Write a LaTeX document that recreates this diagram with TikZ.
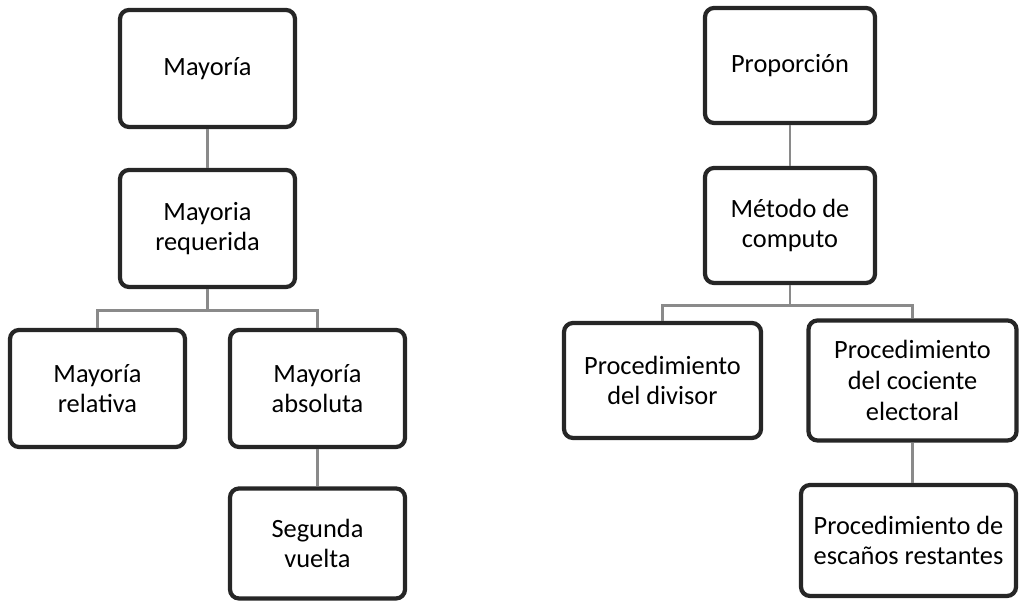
\documentclass[tikz,border=0pt]{standalone}
\usepackage{fontspec}
\setmainfont{Carlito}
\usepackage{tikz}
\usetikzlibrary{shapes.geometric, arrows}
\definecolor{boxline}{HTML}{262626}
\definecolor{linkgray}{HTML}{8A8A8A}
\tikzstyle{box} = [rectangle, rounded corners=0.18cm, minimum width=3.5cm, minimum height=2.34cm, text centered, align=center, draw=boxline, line width=2.4pt, font=\fontsize{15}{17.5}\selectfont]
\tikzstyle{link} = [draw=linkgray, line width=1.6pt]

\begin{document}
\begin{tikzpicture}[node distance=3.2cm]
\useasboundingbox (0,0) rectangle (20.4,-12.02);
% left tree
\node (may) [box] at (4.15,-1.37) {Mayoría};
\node (req) [box, below of=may] {Mayoria\\requerida};
\node (rel) [box, below of=req, xshift=-2.2cm] {Mayoría\\relativa};
\node (abs) [box, below of=req, xshift=2.2cm] {Mayoría\\absoluta};
\node (seg) [box, below of=abs, yshift=0.1cm, minimum height=2.2cm] {Segunda\\vuelta};

% right tree
\node (pro) [box, minimum width=3.4cm, minimum height=2.3cm] at (15.8,-1.31) {Proporción};
\node (met) [box, minimum width=3.4cm, minimum height=2.3cm, below of=pro] {Método de\\computo};
\node (div) [box, minimum width=3.94cm, minimum height=2.3cm, below of=met, xshift=-2.55cm, yshift=0.1cm] {Procedimiento\\del divisor};
\node (coc) [box, minimum width=4.16cm, minimum height=2.4cm, below of=met, xshift=2.45cm, yshift=0.1cm] {Procedimiento\\del cociente\\electoral};
\node (esc) [box, minimum width=4.3cm, minimum height=2.22cm, below of=coc, xshift=-0.08cm] {Procedimiento de\\escaños restantes};

\draw [link] (may) -- (req);
\draw [link] (req.south) -- ++(0,-0.42) -| (rel.north);
\draw [link] (req.south) -- ++(0,-0.42) -| (abs.north);
\draw [link] (abs) -- (seg);

\draw [link] (pro) -- (met);
\draw [link] (met.south) -- ++(0,-0.4) -| (div.north);
\draw [link] (met.south) -- ++(0,-0.4) -| (coc.north);
\draw [link] (coc.south) -- (coc.south |- esc.north);
\end{tikzpicture}
\end{document}
